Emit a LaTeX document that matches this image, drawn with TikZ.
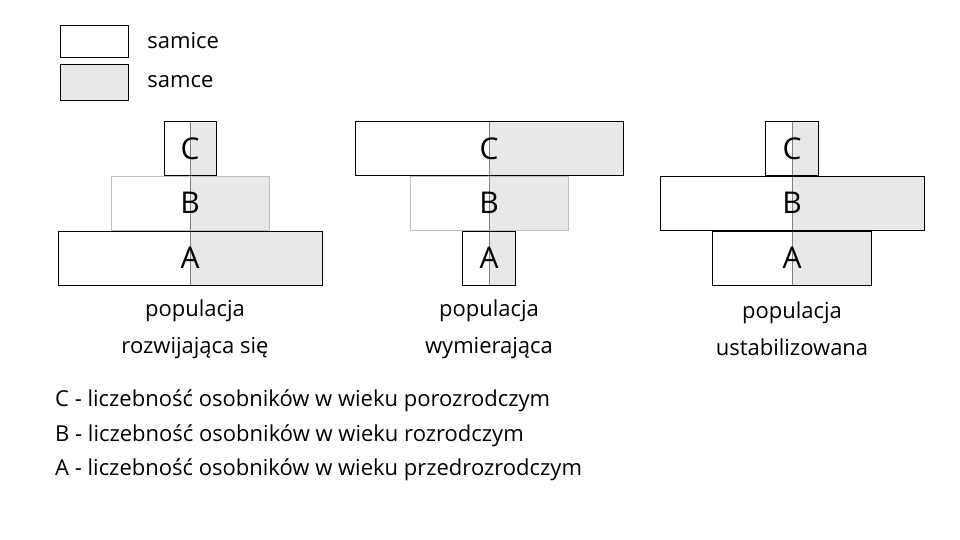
\documentclass[tikz,border=0pt]{standalone}
\usepackage{fontspec}
\setmainfont{Open Sans}
\usetikzlibrary{positioning}

\tikzset{
  bar/.style={rectangle, draw=black, thick, inner sep=0pt, minimum height=54pt,
    font=\fontsize{30}{32}\selectfont,
    path picture={\fill[gray!18] (path picture bounding box.north) rectangle (path picture bounding box.south east);
      \draw[gray, thin] (path picture bounding box.north) -- (path picture bounding box.south);}},
  lightbar/.style={bar, draw=gray!50},
  caption/.style={align=center, font=\fontsize{22}{37}\selectfont},
  legend/.style={anchor=west, inner sep=0pt, font=\fontsize{22}{24}\selectfont},
}

\begin{document}
\begin{tikzpicture}[x=1pt, y=-1pt]
    \useasboundingbox (0,0) rectangle (960,540);

    % legend
    \node[rectangle, draw, minimum width=68pt, minimum height=32pt] (female) at (94,41) {};
    \node[rectangle, draw, fill=gray!18, minimum width=68pt, minimum height=36pt] (male) at (94,82) {};
    \node[legend, right=19pt of female] {samice};
    \node[legend, right=19pt of male] {samce};

    % populacja rozwijajaca sie
    \node[bar, minimum width=264pt] (a1) at (190,258) {A};
    \node[lightbar, minimum width=158pt, above=0pt of a1] (b1) {B};
    \node[bar, minimum width=52pt, above=0pt of b1] (c1) {C};
    \node[caption] at (195,329) {populacja\\rozwijająca się};

    % populacja wymierajaca
    \node[bar, minimum width=53pt] (a2) at (489,258) {A};
    \node[lightbar, minimum width=158pt, above=0pt of a2] (b2) {B};
    \node[bar, minimum width=268pt, above=0pt of b2] (c2) {C};
    \node[caption] at (489,329) {populacja\\wymierająca};

    % populacja ustabilizowana
    \node[bar, minimum width=159pt] (a3) at (792,258) {A};
    \node[bar, minimum width=264pt, above=0pt of a3] (b3) {B};
    \node[bar, minimum width=53pt, above=0pt of b3] (c3) {C};
    \node[caption] at (792,329) {populacja\\ustabilizowana};

    % opis
    \node[legend] (lc) at (55,401) {C - liczebność osobników w wieku porozrodczym};
    \node[legend] (lb) at (55,436) {B - liczebność osobników w wieku rozrodczym};
    \node[legend] (la) at (55,470) {A - liczebność osobników w wieku przedrozrodczym};
\end{tikzpicture}
\end{document}
